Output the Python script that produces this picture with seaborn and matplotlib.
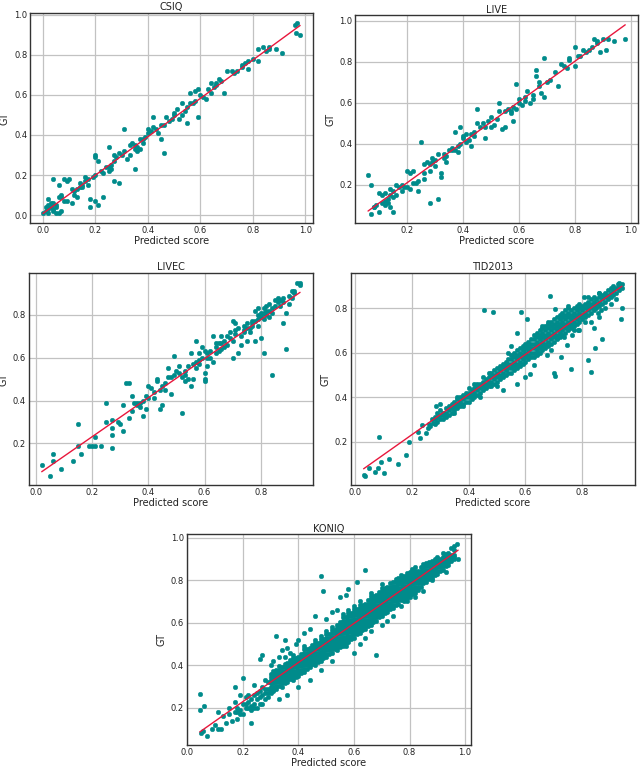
import matplotlib
matplotlib.use("Agg")
import matplotlib.pyplot as plt
from matplotlib.ticker import MultipleLocator, FormatStrFormatter
import seaborn as sns
import pandas as pd

# ---------------- data (predicted score, GT) ----------------
csiq_points = [
    (0.96,0.95),(0.97,0.96),(0.965,0.91),(0.98,0.90),(0.91,0.81),(0.89,0.83),(0.86,0.83),(0.85,0.82),
    (0.84,0.84),(0.82,0.83),(0.82,0.77),(0.78,0.77),(0.78,0.73),(0.77,0.76),(0.76,0.75),(0.76,0.74),
    (0.73,0.71),(0.72,0.72),(0.70,0.72),(0.69,0.61),(0.68,0.67),(0.67,0.68),(0.66,0.66),(0.65,0.64),
    (0.64,0.66),(0.63,0.63),(0.64,0.61),(0.62,0.58),(0.60,0.60),(0.59,0.63),(0.58,0.62),(0.56,0.61),
    (0.58,0.57),(0.57,0.56),(0.56,0.56),(0.59,0.49),(0.55,0.54),(0.54,0.52),(0.55,0.46),(0.53,0.50),
    (0.52,0.48),(0.51,0.53),(0.50,0.50),(0.50,0.51),(0.47,0.49),(0.48,0.47),(0.46,0.45),(0.45,0.45),
    (0.45,0.38),(0.46,0.31),(0.42,0.49),(0.42,0.44),(0.40,0.43),(0.40,0.41),(0.39,0.39),(0.38,0.38),
    (0.37,0.38),(0.38,0.36),(0.36,0.34),(0.37,0.33),(0.36,0.32),(0.35,0.33),(0.35,0.35),(0.34,0.36),
    (0.33,0.35),(0.33,0.30),(0.32,0.28),(0.31,0.43),(0.31,0.32),(0.30,0.30),(0.29,0.31),(0.29,0.16),
    (0.28,0.29),(0.27,0.30),(0.27,0.27),(0.27,0.17),(0.26,0.25),(0.26,0.23),(0.25,0.24),(0.25,0.34),
    (0.25,0.22),(0.35,0.23),(0.23,0.21),(0.23,0.09),(0.21,0.27),(0.20,0.30),(0.20,0.29),(0.20,0.20),
    (0.21,0.05),(0.19,0.19),(0.20,0.07),(0.18,0.08),(0.18,0.04),(0.17,0.18),(0.16,0.19),(0.16,0.17),
    (0.15,0.14),(0.15,0.15),(0.14,0.16),(0.14,0.14),(0.13,0.13),(0.13,0.09),(0.12,0.12),(0.11,0.13),
    (0.11,0.06),(0.10,0.18),(0.09,0.17),(0.09,0.07),(0.08,0.18),(0.08,0.07),(0.07,0.10),(0.07,0.09),
    (0.06,0.09),(0.06,0.15),(0.05,0.05),(0.05,0.01),(0.04,0.18),(0.04,0.06),(0.07,0.02),(0.03,0.05),
    (0.03,0.04),(0.02,0.05),(0.02,0.03),(0.02,0.08),(0.01,0.04),(0.01,0.02),(0.00,0.01),(0.02,0.01),
    (0.04,0.02),(0.05,0.04),(0.06,0.01),(0.03,0.06),(0.04,0.03),(0.12,0.10),(0.17,0.15),(0.22,0.22),
    (0.24,0.24),(0.44,0.41),(0.41,0.42),(0.43,0.43),(0.53,0.56),(0.61,0.59),(0.66,0.65),(0.74,0.72),
    (0.80,0.78),(0.86,0.84),(0.49,0.48),
]

live_points = [
    (0.06,0.25),(0.07,0.20),(0.07,0.06),(0.08,0.09),(0.09,0.10),(0.10,0.16),(0.10,0.07),(0.11,0.11),
    (0.11,0.15),(0.12,0.12),(0.12,0.16),(0.13,0.13),(0.13,0.11),(0.14,0.15),(0.14,0.09),(0.14,0.18),
    (0.15,0.17),(0.15,0.14),(0.15,0.07),(0.16,0.20),(0.16,0.15),(0.17,0.19),(0.18,0.20),(0.19,0.19),
    (0.20,0.27),(0.20,0.19),(0.21,0.18),(0.21,0.26),(0.22,0.27),(0.22,0.21),(0.23,0.21),(0.24,0.17),
    (0.24,0.22),(0.25,0.41),(0.26,0.30),(0.26,0.26),(0.26,0.23),(0.27,0.31),(0.28,0.30),(0.28,0.27),
    (0.28,0.11),(0.29,0.33),(0.29,0.31),(0.30,0.32),(0.30,0.29),(0.31,0.35),(0.31,0.13),(0.32,0.26),
    (0.32,0.24),(0.33,0.33),(0.33,0.35),(0.34,0.34),(0.34,0.31),(0.35,0.37),(0.36,0.38),(0.37,0.46),
    (0.37,0.37),(0.38,0.39),(0.38,0.36),(0.39,0.48),(0.39,0.40),(0.40,0.43),(0.40,0.44),(0.41,0.41),
    (0.41,0.45),(0.42,0.42),(0.43,0.39),(0.43,0.45),(0.44,0.46),(0.45,0.50),(0.45,0.57),(0.46,0.48),
    (0.47,0.50),(0.48,0.43),(0.48,0.48),(0.49,0.51),(0.50,0.53),(0.50,0.48),(0.51,0.49),(0.52,0.52),
    (0.53,0.56),(0.53,0.60),(0.54,0.47),(0.55,0.48),(0.55,0.56),(0.56,0.57),(0.57,0.55),(0.58,0.51),
    (0.58,0.58),(0.59,0.57),(0.59,0.69),(0.60,0.60),(0.60,0.62),(0.61,0.59),(0.62,0.61),(0.63,0.66),
    (0.64,0.60),(0.65,0.64),(0.65,0.62),(0.66,0.73),(0.66,0.76),(0.67,0.70),(0.67,0.68),(0.68,0.65),
    (0.69,0.82),(0.69,0.63),(0.70,0.70),(0.71,0.71),(0.74,0.68),(0.75,0.79),(0.76,0.78),(0.77,0.77),
    (0.78,0.81),(0.78,0.82),(0.80,0.87),(0.80,0.78),(0.81,0.83),(0.82,0.83),(0.83,0.86),(0.84,0.85),
    (0.86,0.87),(0.87,0.91),(0.88,0.89),(0.88,0.90),(0.89,0.85),(0.90,0.91),(0.91,0.86),(0.92,0.91),
    (0.94,0.90),(0.98,0.91),(0.08,0.09),(0.12,0.10),(0.18,0.17),(0.36,0.37),(0.44,0.44),(0.57,0.56),
    (0.62,0.63),(0.73,0.75),(0.85,0.86),
]

livec_points = [
    (0.02,0.10),(0.05,0.05),(0.06,0.15),(0.06,0.12),(0.09,0.08),(0.13,0.12),(0.15,0.29),(0.15,0.19),
    (0.16,0.15),(0.19,0.19),(0.20,0.19),(0.21,0.19),(0.23,0.19),(0.21,0.23),(0.25,0.39),(0.25,0.30),
    (0.27,0.24),(0.27,0.18),(0.27,0.31),(0.27,0.27),(0.29,0.30),(0.30,0.29),(0.31,0.26),(0.31,0.38),
    (0.32,0.48),(0.33,0.48),(0.33,0.32),(0.34,0.42),(0.35,0.39),(0.36,0.38),(0.36,0.39),(0.37,0.39),
    (0.38,0.40),(0.38,0.33),(0.39,0.36),(0.39,0.42),(0.40,0.47),(0.41,0.46),(0.42,0.41),(0.43,0.50),
    (0.43,0.49),(0.45,0.38),(0.44,0.36),(0.45,0.47),(0.46,0.45),(0.46,0.48),(0.47,0.51),(0.48,0.43),
    (0.49,0.61),(0.47,0.55),(0.48,0.51),(0.49,0.52),(0.50,0.54),(0.51,0.56),(0.51,0.53),(0.52,0.51),
    (0.52,0.34),(0.53,0.49),(0.53,0.54),(0.54,0.56),(0.54,0.50),(0.55,0.47),(0.55,0.62),(0.56,0.50),
    (0.56,0.57),(0.57,0.68),(0.57,0.58),(0.58,0.59),(0.58,0.62),(0.58,0.57),(0.59,0.60),(0.59,0.65),
    (0.60,0.50),(0.60,0.49),(0.60,0.63),(0.60,0.53),(0.61,0.62),(0.61,0.56),(0.61,0.60),(0.62,0.63),
    (0.63,0.70),(0.63,0.58),(0.64,0.65),(0.64,0.67),(0.64,0.62),(0.65,0.67),(0.66,0.64),(0.66,0.67),
    (0.66,0.70),(0.67,0.68),(0.67,0.65),(0.68,0.70),(0.69,0.69),(0.69,0.72),(0.70,0.60),(0.70,0.77),
    (0.70,0.68),(0.71,0.76),(0.71,0.73),(0.71,0.71),(0.72,0.74),(0.72,0.62),(0.73,0.66),(0.73,0.70),
    (0.74,0.75),(0.74,0.72),(0.74,0.73),(0.75,0.68),(0.75,0.74),(0.76,0.72),(0.77,0.76),(0.77,0.77),
    (0.77,0.75),(0.78,0.77),(0.78,0.68),(0.78,0.82),(0.79,0.80),(0.79,0.75),(0.79,0.83),(0.80,0.69),
    (0.80,0.81),(0.80,0.79),(0.81,0.62),(0.81,0.83),(0.81,0.81),(0.82,0.80),(0.82,0.84),(0.83,0.82),
    (0.83,0.79),(0.83,0.85),(0.84,0.52),(0.84,0.81),(0.85,0.87),(0.85,0.84),(0.86,0.88),(0.86,0.86),
    (0.87,0.84),(0.88,0.76),(0.88,0.88),(0.88,0.86),(0.89,0.64),(0.89,0.81),(0.90,0.89),(0.90,0.85),
    (0.91,0.91),(0.92,0.91),(0.92,0.90),(0.93,0.95),(0.94,0.94),(0.94,0.95),(0.80,0.80),(0.81,0.78),
    (0.82,0.82),(0.76,0.74),(0.75,0.76),(0.68,0.66),(0.65,0.63),(0.62,0.60),(0.57,0.55),(0.53,0.52),
    (0.44,0.45),(0.42,0.44),(0.40,0.41),(0.37,0.37),(0.34,0.35),(0.79,0.78),(0.84,0.83),(0.87,0.87),
    (0.91,0.88),
]

# TID2013: low end and scattered points
tid_points = [
    (0.03,0.05),(0.035,0.047),(0.05,0.08),(0.07,0.065),(0.08,0.08),(0.09,0.11),(0.085,0.22),(0.10,0.06),
    (0.12,0.12),(0.15,0.10),(0.18,0.14),(0.19,0.20),(0.22,0.245),(0.23,0.215),(0.235,0.275),(0.25,0.24),
    (0.255,0.26),(0.26,0.28),(0.265,0.27),(0.27,0.30),(0.275,0.285),(0.285,0.36),(0.30,0.37),(0.36,0.40),
    (0.43,0.46),(0.455,0.79),(0.485,0.785),(0.52,0.43),(0.55,0.63),(0.57,0.46),(0.57,0.69),(0.585,0.785),
    (0.60,0.49),(0.605,0.75),(0.615,0.505),(0.63,0.545),(0.645,0.60),(0.665,0.63),(0.675,0.59),(0.685,0.855),
    (0.69,0.61),(0.70,0.51),(0.705,0.495),(0.705,0.795),(0.71,0.665),(0.725,0.58),(0.735,0.67),(0.745,0.635),
    (0.76,0.525),(0.765,0.68),(0.77,0.70),(0.785,0.70),(0.79,0.70),(0.81,0.74),(0.82,0.565),(0.83,0.515),
    (0.84,0.71),(0.845,0.62),(0.855,0.78),(0.865,0.79),(0.87,0.66),(0.935,0.75),(0.94,0.80),(0.805,0.85),
    (0.86,0.87),(0.925,0.91),(0.83,0.74),(0.86,0.76),(0.88,0.80),(0.90,0.82),(0.92,0.84),(0.93,0.915),
    (0.54,0.60),(0.66,0.72),(0.68,0.74),(0.75,0.81),(0.82,0.85),
]

# TID2013: dense band
tid_band_points = [
    (0.28,0.28),(0.28,0.30),(0.28,0.31),(0.29,0.29),(0.29,0.31),(0.29,0.33),(0.30,0.30),(0.30,0.32),
    (0.30,0.34),(0.31,0.30),(0.31,0.32),(0.31,0.33),(0.32,0.31),(0.32,0.33),(0.32,0.35),(0.33,0.32),
    (0.33,0.34),(0.33,0.36),(0.34,0.33),(0.34,0.35),(0.34,0.37),(0.35,0.33),(0.35,0.34),(0.35,0.36),
    (0.35,0.38),(0.36,0.35),(0.36,0.37),(0.36,0.39),(0.37,0.36),(0.37,0.38),(0.37,0.40),(0.38,0.36),
    (0.38,0.37),(0.38,0.39),(0.38,0.41),(0.39,0.38),(0.39,0.40),(0.39,0.42),(0.40,0.38),(0.40,0.40),
    (0.40,0.42),(0.40,0.44),(0.41,0.39),(0.41,0.41),(0.41,0.43),(0.42,0.40),(0.42,0.42),(0.42,0.44),
    (0.42,0.46),(0.43,0.41),(0.43,0.43),(0.43,0.45),(0.44,0.40),(0.44,0.42),(0.44,0.44),(0.44,0.46),
    (0.45,0.43),(0.45,0.45),(0.45,0.47),(0.45,0.49),(0.46,0.44),(0.46,0.46),(0.46,0.48),(0.47,0.45),
    (0.47,0.47),(0.47,0.49),(0.47,0.51),(0.48,0.45),(0.48,0.47),(0.48,0.49),(0.48,0.51),(0.49,0.46),
    (0.49,0.48),(0.49,0.50),(0.49,0.52),(0.50,0.45),(0.50,0.47),(0.50,0.49),(0.50,0.51),(0.50,0.53),
    (0.51,0.48),(0.51,0.50),(0.51,0.52),(0.51,0.54),(0.52,0.49),(0.52,0.51),(0.52,0.53),(0.52,0.55),
    (0.53,0.50),(0.53,0.52),(0.53,0.54),(0.53,0.56),(0.54,0.51),(0.54,0.53),(0.54,0.55),(0.54,0.57),
    (0.55,0.51),(0.55,0.53),(0.55,0.55),(0.55,0.57),(0.55,0.59),(0.56,0.52),(0.56,0.54),(0.56,0.56),
    (0.56,0.58),(0.56,0.60),(0.57,0.53),(0.57,0.55),(0.57,0.57),(0.57,0.59),(0.57,0.61),(0.58,0.54),
    (0.58,0.56),(0.58,0.58),(0.58,0.60),(0.58,0.62),(0.59,0.55),(0.59,0.57),(0.59,0.59),(0.59,0.61),
    (0.59,0.63),(0.60,0.56),(0.60,0.58),(0.60,0.60),(0.60,0.62),(0.60,0.64),(0.61,0.57),(0.61,0.59),
    (0.61,0.61),(0.61,0.63),(0.61,0.65),(0.62,0.58),(0.62,0.60),(0.62,0.62),(0.62,0.64),(0.62,0.66),
    (0.63,0.58),(0.63,0.60),(0.63,0.62),(0.63,0.64),(0.63,0.66),(0.63,0.68),(0.64,0.59),(0.64,0.61),
    (0.64,0.63),(0.64,0.65),(0.64,0.67),(0.64,0.69),(0.65,0.60),(0.65,0.62),(0.65,0.64),(0.65,0.66),
    (0.65,0.68),(0.65,0.70),(0.66,0.61),(0.66,0.63),(0.66,0.65),(0.66,0.67),(0.66,0.69),(0.66,0.71),
    (0.67,0.62),(0.67,0.64),(0.67,0.66),(0.67,0.68),(0.67,0.70),(0.67,0.72),(0.68,0.63),(0.68,0.65),
    (0.68,0.67),(0.68,0.69),(0.68,0.71),(0.68,0.73),(0.69,0.64),(0.69,0.66),(0.69,0.68),(0.69,0.70),
    (0.69,0.72),(0.69,0.74),(0.70,0.65),(0.70,0.67),(0.70,0.69),(0.70,0.71),(0.70,0.73),(0.70,0.75),
    (0.71,0.66),(0.71,0.68),(0.71,0.70),(0.71,0.72),(0.71,0.74),(0.71,0.76),(0.72,0.67),(0.72,0.69),
    (0.72,0.71),(0.72,0.73),(0.72,0.75),(0.72,0.77),(0.73,0.68),(0.73,0.70),(0.73,0.72),(0.73,0.74),
    (0.73,0.76),(0.73,0.78),(0.74,0.69),(0.74,0.71),(0.74,0.73),(0.74,0.75),(0.74,0.77),(0.74,0.79),
    (0.75,0.70),(0.75,0.72),(0.75,0.74),(0.75,0.76),(0.75,0.78),(0.75,0.80),(0.76,0.71),(0.76,0.73),
    (0.76,0.75),(0.76,0.77),(0.76,0.79),(0.77,0.72),(0.77,0.74),(0.77,0.76),(0.77,0.78),(0.77,0.80),
    (0.78,0.73),(0.78,0.75),(0.78,0.77),(0.78,0.79),(0.78,0.81),(0.79,0.74),(0.79,0.76),(0.79,0.78),
    (0.79,0.80),(0.79,0.82),(0.80,0.75),(0.80,0.77),(0.80,0.79),(0.80,0.81),(0.81,0.76),(0.81,0.78),
    (0.81,0.80),(0.81,0.82),(0.82,0.77),(0.82,0.79),(0.82,0.81),(0.82,0.83),(0.83,0.78),(0.83,0.80),
    (0.83,0.82),(0.83,0.84),(0.84,0.79),(0.84,0.81),(0.84,0.83),(0.84,0.85),(0.85,0.80),(0.85,0.82),
    (0.85,0.84),(0.86,0.81),(0.86,0.83),(0.86,0.85),(0.86,0.87),(0.87,0.82),(0.87,0.84),(0.87,0.86),
    (0.88,0.83),(0.88,0.85),(0.88,0.87),(0.89,0.84),(0.89,0.86),(0.89,0.88),(0.90,0.85),(0.90,0.87),
    (0.90,0.89),(0.91,0.86),(0.91,0.88),(0.91,0.90),(0.92,0.87),(0.92,0.89),(0.93,0.88),(0.93,0.90),
    (0.94,0.89),(0.94,0.91),
]

koniq_points = [
    # sparse low end and outliers
    (0.045,0.265),(0.045,0.19),(0.06,0.21),(0.05,0.08),(0.055,0.09),(0.07,0.07),(0.09,0.10),(0.10,0.12),
    (0.11,0.18),(0.11,0.10),(0.12,0.10),(0.13,0.16),(0.14,0.13),(0.15,0.17),(0.15,0.20),(0.16,0.14),
    (0.17,0.18),(0.17,0.30),(0.17,0.23),(0.18,0.20),(0.18,0.15),(0.19,0.19),(0.19,0.26),(0.20,0.22),
    (0.20,0.17),(0.20,0.34),(0.21,0.25),(0.21,0.20),(0.22,0.23),(0.22,0.26),(0.23,0.21),(0.23,0.13),
    (0.23,0.19),(0.24,0.26),(0.24,0.22),(0.24,0.31),(0.25,0.24),(0.25,0.20),(0.26,0.28),(0.26,0.43),
    (0.26,0.25),(0.27,0.45),(0.27,0.30),(0.27,0.22),(0.28,0.27),(0.28,0.33),(0.29,0.29),(0.29,0.25),
    (0.30,0.40),(0.31,0.28),(0.31,0.42),(0.32,0.54),(0.33,0.44),(0.34,0.47),(0.35,0.52),(0.35,0.44),
    (0.36,0.48),(0.37,0.46),(0.39,0.50),(0.40,0.52),(0.42,0.55),(0.44,0.57),(0.46,0.63),(0.48,0.82),
    (0.49,0.75),(0.50,0.62),(0.52,0.65),(0.54,0.66),(0.55,0.72),(0.57,0.73),(0.58,0.76),(0.61,0.79),
    (0.64,0.85),(0.68,0.45),(0.60,0.46),(0.57,0.49),(0.62,0.50),(0.64,0.53),(0.66,0.56),(0.70,0.59),
    (0.72,0.61),(0.74,0.63),(0.77,0.68),(0.79,0.70),(0.82,0.72),(0.85,0.75),(0.88,0.80),(0.93,0.84),
    (0.96,0.91),(0.97,0.97),(0.975,0.90),(0.95,0.95),(0.92,0.93),(0.44,0.33),(0.48,0.38),(0.52,0.42),
    (0.36,0.26),(0.33,0.24),(0.40,0.30),(0.21,0.22),(0.22,0.20),(0.23,0.24),(0.24,0.20),(0.25,0.27),
    (0.26,0.22),(0.27,0.26),(0.28,0.24),(0.28,0.29),(0.29,0.27),(0.29,0.32),(0.19,0.17),(0.18,0.18),
    # dense band
    (0.30,0.27),(0.30,0.30),(0.30,0.33),(0.30,0.36),(0.31,0.285),(0.31,0.315),(0.31,0.345),(0.31,0.375),
    (0.32,0.29),(0.32,0.32),(0.32,0.35),(0.32,0.38),(0.33,0.305),(0.33,0.335),(0.33,0.365),(0.33,0.395),
    (0.34,0.30),(0.34,0.33),(0.34,0.36),(0.34,0.39),(0.35,0.315),(0.35,0.345),(0.35,0.375),(0.35,0.405),
    (0.36,0.32),(0.36,0.35),(0.36,0.38),(0.36,0.41),(0.37,0.335),(0.37,0.365),(0.37,0.395),(0.37,0.425),
    (0.38,0.33),(0.38,0.36),(0.38,0.39),(0.38,0.42),(0.38,0.45),(0.39,0.345),(0.39,0.375),(0.39,0.405),
    (0.39,0.435),(0.40,0.35),(0.40,0.38),(0.40,0.41),(0.40,0.44),(0.41,0.365),(0.41,0.395),(0.41,0.425),
    (0.41,0.455),(0.42,0.37),(0.42,0.40),(0.42,0.43),(0.42,0.46),(0.42,0.49),(0.43,0.385),(0.43,0.415),
    (0.43,0.445),(0.43,0.475),(0.44,0.39),(0.44,0.42),(0.44,0.45),(0.44,0.48),(0.45,0.405),(0.45,0.435),
    (0.45,0.465),(0.45,0.495),(0.46,0.40),(0.46,0.43),(0.46,0.46),(0.46,0.49),(0.46,0.52),(0.47,0.415),
    (0.47,0.445),(0.47,0.475),(0.47,0.505),(0.48,0.42),(0.48,0.45),(0.48,0.48),(0.48,0.51),(0.48,0.54),
    (0.49,0.435),(0.49,0.465),(0.49,0.495),(0.49,0.525),(0.50,0.44),(0.50,0.47),(0.50,0.50),(0.50,0.53),
    (0.50,0.56),(0.51,0.455),(0.51,0.485),(0.51,0.515),(0.51,0.545),(0.52,0.46),(0.52,0.49),(0.52,0.52),
    (0.52,0.55),(0.52,0.58),(0.53,0.475),(0.53,0.505),(0.53,0.535),(0.53,0.565),(0.54,0.47),(0.54,0.50),
    (0.54,0.53),(0.54,0.56),(0.54,0.59),(0.55,0.485),(0.55,0.515),(0.55,0.545),(0.55,0.575),(0.55,0.605),
    (0.56,0.49),(0.56,0.52),(0.56,0.55),(0.56,0.58),(0.56,0.61),(0.56,0.64),(0.57,0.505),(0.57,0.535),
    (0.57,0.565),(0.57,0.595),(0.57,0.625),(0.58,0.51),(0.58,0.54),(0.58,0.57),(0.58,0.60),(0.58,0.63),
    (0.58,0.66),(0.59,0.525),(0.59,0.555),(0.59,0.585),(0.59,0.615),(0.59,0.645),(0.60,0.53),(0.60,0.56),
    (0.60,0.59),(0.60,0.62),(0.60,0.65),(0.60,0.68),(0.61,0.545),(0.61,0.575),(0.61,0.605),(0.61,0.635),
    (0.61,0.665),(0.62,0.55),(0.62,0.58),(0.62,0.61),(0.62,0.64),(0.62,0.67),(0.62,0.70),(0.63,0.565),
    (0.63,0.595),(0.63,0.625),(0.63,0.655),(0.63,0.685),(0.64,0.57),(0.64,0.60),(0.64,0.63),(0.64,0.66),
    (0.64,0.69),(0.65,0.585),(0.65,0.615),(0.65,0.645),(0.65,0.675),(0.65,0.705),(0.66,0.59),(0.66,0.62),
    (0.66,0.65),(0.66,0.68),(0.66,0.71),(0.66,0.74),(0.67,0.605),(0.67,0.635),(0.67,0.665),(0.67,0.695),
    (0.67,0.725),(0.68,0.61),(0.68,0.64),(0.68,0.67),(0.68,0.70),(0.68,0.73),(0.69,0.625),(0.69,0.655),
    (0.69,0.685),(0.69,0.715),(0.69,0.745),(0.70,0.63),(0.70,0.66),(0.70,0.69),(0.70,0.72),(0.70,0.75),
    (0.70,0.78),(0.71,0.645),(0.71,0.675),(0.71,0.705),(0.71,0.735),(0.71,0.765),(0.72,0.65),(0.72,0.68),
    (0.72,0.71),(0.72,0.74),(0.72,0.77),(0.73,0.665),(0.73,0.695),(0.73,0.725),(0.73,0.755),(0.73,0.785),
    (0.74,0.67),(0.74,0.70),(0.74,0.73),(0.74,0.76),(0.74,0.79),(0.75,0.685),(0.75,0.715),(0.75,0.745),
    (0.75,0.775),(0.75,0.805),(0.76,0.69),(0.76,0.72),(0.76,0.75),(0.76,0.78),(0.76,0.81),(0.77,0.705),
    (0.77,0.735),(0.77,0.765),(0.77,0.795),(0.77,0.825),(0.78,0.70),(0.78,0.73),(0.78,0.76),(0.78,0.79),
    (0.78,0.82),(0.79,0.715),(0.79,0.745),(0.79,0.775),(0.79,0.805),(0.79,0.835),(0.80,0.72),(0.80,0.75),
    (0.80,0.78),(0.80,0.81),(0.80,0.84),(0.81,0.735),(0.81,0.765),(0.81,0.795),(0.81,0.825),(0.81,0.855),
    (0.82,0.74),(0.82,0.77),(0.82,0.80),(0.82,0.83),(0.82,0.86),(0.83,0.755),(0.83,0.785),(0.83,0.815),
    (0.83,0.845),(0.84,0.77),(0.84,0.80),(0.84,0.83),(0.84,0.86),(0.85,0.785),(0.85,0.815),(0.85,0.845),
    (0.85,0.875),(0.86,0.79),(0.86,0.82),(0.86,0.85),(0.86,0.88),(0.87,0.805),(0.87,0.835),(0.87,0.865),
    (0.87,0.885),(0.88,0.81),(0.88,0.84),(0.88,0.87),(0.88,0.89),(0.89,0.825),(0.89,0.855),(0.89,0.88),
    (0.89,0.90),(0.90,0.83),(0.90,0.86),(0.90,0.89),(0.90,0.91),(0.91,0.845),(0.91,0.875),(0.91,0.90),
    (0.92,0.85),(0.92,0.88),(0.92,0.91),(0.93,0.865),(0.93,0.895),(0.93,0.925),(0.94,0.87),(0.94,0.90),
    (0.94,0.93),(0.95,0.89),(0.95,0.92),(0.96,0.90),(0.96,0.94),(0.96,0.96),
]

# further points inside the solid KONIQ band
koniq_core_points = [
    (0.30,0.285),(0.30,0.315),(0.30,0.345),(0.31,0.30),(0.31,0.33),(0.31,0.36),(0.32,0.305),(0.32,0.335),
    (0.32,0.365),(0.33,0.32),(0.33,0.35),(0.33,0.38),(0.34,0.315),(0.34,0.345),(0.34,0.375),(0.35,0.33),
    (0.35,0.36),(0.35,0.39),(0.36,0.335),(0.36,0.365),(0.36,0.395),(0.37,0.35),(0.37,0.38),(0.37,0.41),
    (0.38,0.345),(0.38,0.375),(0.38,0.405),(0.38,0.435),(0.39,0.36),(0.39,0.39),(0.39,0.42),(0.40,0.365),
    (0.40,0.395),(0.40,0.425),(0.41,0.38),(0.41,0.41),(0.41,0.44),(0.42,0.385),(0.42,0.415),(0.42,0.445),
    (0.42,0.475),(0.43,0.40),(0.43,0.43),(0.43,0.46),(0.44,0.405),(0.44,0.435),(0.44,0.465),(0.45,0.42),
    (0.45,0.45),(0.45,0.48),(0.46,0.415),(0.46,0.445),(0.46,0.475),(0.46,0.505),(0.47,0.43),(0.47,0.46),
    (0.47,0.49),(0.48,0.435),(0.48,0.465),(0.48,0.495),(0.48,0.525),(0.49,0.45),(0.49,0.48),(0.49,0.51),
    (0.50,0.455),(0.50,0.485),(0.50,0.515),(0.50,0.545),(0.51,0.47),(0.51,0.50),(0.51,0.53),(0.52,0.475),
    (0.52,0.505),(0.52,0.535),(0.52,0.565),(0.53,0.49),(0.53,0.52),(0.53,0.55),(0.54,0.485),(0.54,0.515),
    (0.54,0.545),(0.54,0.575),(0.55,0.50),(0.55,0.53),(0.55,0.56),(0.55,0.59),(0.56,0.505),(0.56,0.535),
    (0.56,0.565),(0.56,0.595),(0.56,0.625),(0.57,0.52),(0.57,0.55),(0.57,0.58),(0.57,0.61),(0.58,0.525),
    (0.58,0.555),(0.58,0.585),(0.58,0.615),(0.58,0.645),(0.59,0.54),(0.59,0.57),(0.59,0.60),(0.59,0.63),
    (0.60,0.545),(0.60,0.575),(0.60,0.605),(0.60,0.635),(0.60,0.665),(0.61,0.56),(0.61,0.59),(0.61,0.62),
    (0.61,0.65),(0.62,0.565),(0.62,0.595),(0.62,0.625),(0.62,0.655),(0.62,0.685),(0.63,0.58),(0.63,0.61),
    (0.63,0.64),(0.63,0.67),(0.64,0.585),(0.64,0.615),(0.64,0.645),(0.64,0.675),(0.65,0.60),(0.65,0.63),
    (0.65,0.66),(0.65,0.69),(0.66,0.605),(0.66,0.635),(0.66,0.665),(0.66,0.695),(0.66,0.725),(0.67,0.62),
    (0.67,0.65),(0.67,0.68),(0.67,0.71),(0.68,0.625),(0.68,0.655),(0.68,0.685),(0.68,0.715),(0.69,0.64),
    (0.69,0.67),(0.69,0.70),(0.69,0.73),(0.70,0.645),(0.70,0.675),(0.70,0.705),(0.70,0.735),(0.70,0.765),
    (0.71,0.66),(0.71,0.69),(0.71,0.72),(0.71,0.75),(0.72,0.665),(0.72,0.695),(0.72,0.725),(0.72,0.755),
    (0.73,0.68),(0.73,0.71),(0.73,0.74),(0.73,0.77),(0.74,0.685),(0.74,0.715),(0.74,0.745),(0.74,0.775),
    (0.75,0.70),(0.75,0.73),(0.75,0.76),(0.75,0.79),(0.76,0.705),(0.76,0.735),(0.76,0.765),(0.76,0.795),
    (0.77,0.72),(0.77,0.75),(0.77,0.78),(0.77,0.81),(0.78,0.715),(0.78,0.745),(0.78,0.775),(0.78,0.805),
    (0.79,0.73),(0.79,0.76),(0.79,0.79),(0.79,0.82),(0.80,0.735),(0.80,0.765),(0.80,0.795),(0.80,0.825),
    (0.81,0.75),(0.81,0.78),(0.81,0.81),(0.81,0.84),(0.82,0.755),(0.82,0.785),(0.82,0.815),(0.82,0.845),
    (0.83,0.77),(0.83,0.80),(0.83,0.83),(0.84,0.785),(0.84,0.815),(0.84,0.845),(0.85,0.80),(0.85,0.83),
    (0.85,0.86),(0.86,0.805),(0.86,0.835),(0.86,0.865),(0.87,0.82),(0.87,0.85),(0.87,0.875),(0.88,0.825),
    (0.88,0.855),(0.88,0.88),(0.89,0.84),(0.89,0.87),(0.89,0.89),(0.90,0.845),(0.90,0.875),(0.90,0.90),
    (0.91,0.86),(0.91,0.89),(0.92,0.865),(0.92,0.895),(0.93,0.88),(0.93,0.91),(0.94,0.885),(0.94,0.915),
    (0.95,0.905),(0.96,0.92),
]

datasets = ["CSIQ", "LIVE", "LIVEC", "TID2013", "KONIQ"]
point_lists = [csiq_points, live_points, livec_points,
               tid_points + tid_band_points,
               koniq_points + koniq_core_points]

# axes rectangles in figure fraction [left, bottom, width, height]
positions = [
    [0.047, 0.710, 0.442, 0.273],
    [0.555, 0.710, 0.442, 0.270],
    [0.045, 0.369, 0.444, 0.276],
    [0.548, 0.369, 0.444, 0.276],
    [0.292, 0.031, 0.444, 0.274],
]

POINT_COLOR = "#008b8b"
LINE_COLOR = "#e8173c"

sns.set_style("whitegrid", {
    "grid.color": "#c2c2c2",
    "axes.edgecolor": "#333333",
    "axes.linewidth": 1.0,
})
plt.rcParams["font.family"] = ["DejaVu Sans"]

fig = plt.figure(figsize=(6.4, 7.69), dpi=100)

for name, pts, pos in zip(datasets, point_lists, positions):
    df = pd.DataFrame(pts, columns=["Predicted score", "GT"])
    ax = fig.add_axes(pos)
    sns.regplot(
        data=df, x="Predicted score", y="GT", ax=ax, ci=None,
        scatter_kws=dict(s=11, color=POINT_COLOR, alpha=1, linewidths=0.3,
                         edgecolors=POINT_COLOR, zorder=2),
        line_kws=dict(color=LINE_COLOR, lw=1.0, zorder=3),
    )
    ax.set_title(name, fontsize=7, pad=2, color="#222222")
    ax.set_xlabel("Predicted score", fontsize=7, labelpad=1, color="#222222")
    ax.set_ylabel("GT", fontsize=7, labelpad=3, color="#222222")
    ax.xaxis.set_major_locator(MultipleLocator(0.2))
    ax.yaxis.set_major_locator(MultipleLocator(0.2))
    ax.xaxis.set_major_formatter(FormatStrFormatter("%.1f"))
    ax.yaxis.set_major_formatter(FormatStrFormatter("%.1f"))
    ax.tick_params(labelsize=6, pad=2, length=0, colors="#222222")
    ax.grid(True, lw=0.9)
    ax.set_axisbelow(True)
    for sp in ax.spines.values():
        sp.set_visible(True)
        sp.set_color("#333333")
        sp.set_linewidth(1.0)

fig.savefig("out.png", dpi=100)
